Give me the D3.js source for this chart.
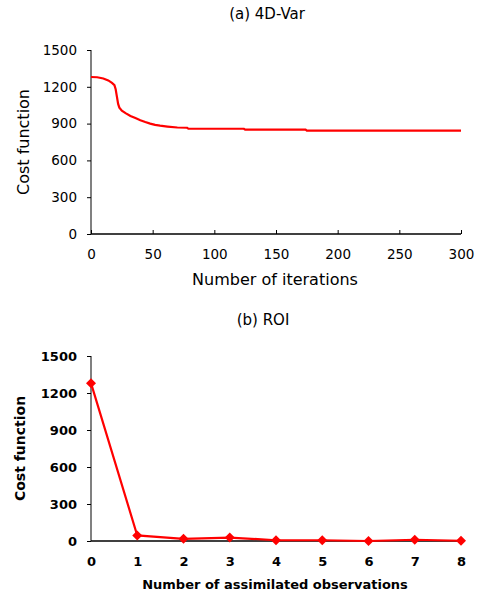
<!DOCTYPE html>
<html>
<head>
<meta charset="utf-8">
<script src="https://cdn.jsdelivr.net/npm/d3@7"></script>
<style>
  body { margin: 0; background: #fff; }
  svg { display: block; font-family: "DejaVu Sans", sans-serif; }
</style>
</head>
<body>
<svg width="479" height="597"></svg>
<script>
// (a) 4D-Var: cost function vs iteration
const iterations = [0, 5, 10, 14, 17, 19, 20, 21, 22, 23, 25, 28, 32, 36, 40, 44, 48, 52, 56, 62, 70, 78, 79, 124, 125, 174, 175, 300];
const costVar    = [1280, 1278, 1268, 1252, 1232, 1214, 1180, 1120, 1060, 1030, 1005, 985, 962, 945, 928, 913, 900, 890, 883, 876, 868, 866, 858, 858, 851, 851, 843, 843];

// (b) ROI: cost function vs number of assimilated observations
const observations = [0, 1, 2, 3, 4, 5, 6, 7, 8];
const costRoi      = [1280, 45, 18, 28, 6, 6, 0, 10, 2];

const yTicks = [0, 300, 600, 900, 1200, 1500];

const svg = d3.select("svg");
const left = 91, right = 461;

function panel(top, bottom, xDomain, xTicks, opts) {
  const x = d3.scaleLinear().domain(xDomain).range([left, right]);
  const y = d3.scaleLinear().domain([0, 1500]).range([bottom, top]);
  const g = svg.append("g");
  const weight = opts.bold ? "bold" : "normal";

  // y axis
  const ya = g.append("g")
    .attr("transform", `translate(${left},0)`)
    .call(d3.axisLeft(y).tickValues(yTicks).tickSize(4).tickPadding(10).tickFormat(d3.format("d")));
  ya.select(".domain").attr("stroke", "#808080").attr("stroke-width", 2).attr("d", `M0,${top}V${bottom}`);
  ya.selectAll(".tick line").attr("stroke", "#000");
  ya.selectAll("text").attr("font-size", opts.tickSize).attr("font-weight", weight)
    .attr("font-family", "DejaVu Sans, sans-serif").attr("fill", "#000");

  // x axis
  const xa = g.append("g")
    .attr("transform", `translate(0,${bottom})`)
    .call(d3.axisBottom(x).tickValues(xTicks).tickSize(opts.xTickIn ? -4 : 0).tickPadding(opts.xPad)
      .tickFormat(d3.format("d")));
  xa.select(".domain").attr("stroke", "#000").attr("stroke-width", 1.5).attr("d", `M${left},0H${right}`);
  xa.selectAll(".tick line").attr("stroke", "#000");
  xa.selectAll("text").attr("font-size", opts.tickSize).attr("font-weight", weight)
    .attr("font-family", "DejaVu Sans, sans-serif").attr("fill", "#000");

  // title
  g.append("text").attr("x", opts.titleX).attr("y", top - 31)
    .attr("text-anchor", "middle").attr("font-size", 15).text(opts.title);

  // axis labels
  g.append("text").attr("x", (left + right) / 2 - 1).attr("y", bottom + opts.xLabelDy)
    .attr("text-anchor", "middle").attr("font-size", opts.xLabelSize)
    .attr("font-weight", weight).text(opts.xLabel);
  g.append("text")
    .attr("transform", `translate(${opts.yLabelX},${(top + bottom) / 2}) rotate(-90)`)
    .attr("text-anchor", "middle").attr("font-size", opts.yLabelSize)
    .attr("font-weight", weight).text("Cost function");

  return { g, x, y };
}

// top panel
const a = panel(50, 234, [0, 300], [0, 50, 100, 150, 200, 250, 300],
  { title: "(a) 4D-Var", titleX: 267, xLabel: "Number of iterations", xTickIn: true, xPad: 15,
    yLabelX: 29, bold: false, tickSize: 13.5, xLabelSize: 16, yLabelSize: 16, xLabelDy: 51 });
a.g.append("path")
  .datum(iterations.map((d, i) => [d, costVar[i]]))
  .attr("fill", "none").attr("stroke", "#ff0000").attr("stroke-width", 2.2)
  .attr("d", d3.line().x(d => a.x(d[0])).y(d => a.y(d[1])));

// bottom panel
const b = panel(356, 541, [0, 8], observations,
  { title: "(b) ROI", titleX: 263, xLabel: "Number of assimilated observations", xTickIn: false, xPad: 16,
    yLabelX: 25, bold: true, tickSize: 13, xLabelSize: 13, yLabelSize: 14, xLabelDy: 48 });
const pts = observations.map((d, i) => [d, costRoi[i]]);
b.g.append("path")
  .datum(pts)
  .attr("fill", "none").attr("stroke", "#ff0000").attr("stroke-width", 2.2)
  .attr("d", d3.line().x(d => b.x(d[0])).y(d => b.y(d[1])));
b.g.selectAll("path.mark")
  .data(pts)
  .join("path")
  .attr("class", "mark")
  .attr("fill", "#ff0000")
  .attr("d", d => {
    const cx = b.x(d[0]), cy = b.y(d[1]);
    return `M${cx},${cy - 5}L${cx + 5},${cy}L${cx},${cy + 5}L${cx - 5},${cy}Z`;
  });
</script>
</body>
</html>
